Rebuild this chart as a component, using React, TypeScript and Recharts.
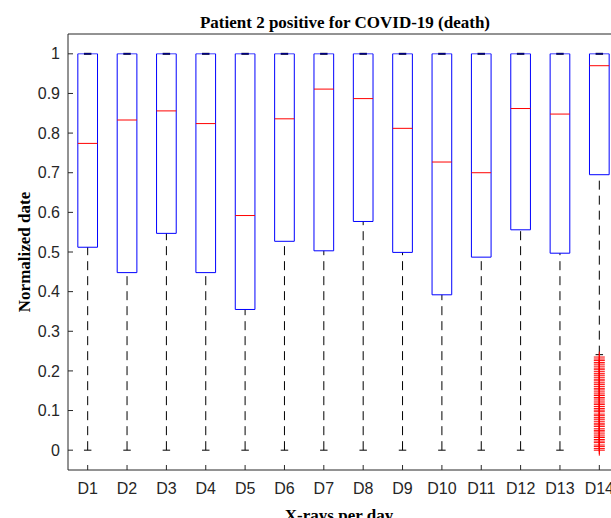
import React from 'react';
import { ComposedChart, XAxis, YAxis, ReferenceLine, Scatter, Customized } from 'recharts';

const days = ['D1', 'D2', 'D3', 'D4', 'D5', 'D6', 'D7', 'D8', 'D9', 'D10', 'D11', 'D12', 'D13', 'D14'];
const lowerWhisker = [0, 0, 0, 0, 0, 0, 0, 0, 0, 0, 0, 0, 0, 0.241];
const q1 = [0.512, 0.448, 0.547, 0.448, 0.355, 0.527, 0.503, 0.577, 0.499, 0.392, 0.487, 0.556, 0.497, 0.695];
const medians = [0.774, 0.833, 0.856, 0.824, 0.592, 0.836, 0.911, 0.887, 0.812, 0.727, 0.7, 0.862, 0.848, 0.97];
const q3 = [1, 1, 1, 1, 1, 1, 1, 1, 1, 1, 1, 1, 1, 1];
const upperWhisker = [1, 1, 1, 1, 1, 1, 1, 1, 1, 1, 1, 1, 1, 1];
// D14 outliers, a dense column from 0 up to the whisker
const d14Outliers = [
  0, 0.004, 0.009, 0.013, 0.019, 0.023, 0.027, 0.032, 0.036, 0.041, 0.046, 0.05,
  0.054, 0.06, 0.064, 0.068, 0.073, 0.078, 0.082, 0.087, 0.091, 0.097, 0.101, 0.105,
  0.11, 0.115, 0.119, 0.124, 0.129, 0.133, 0.138, 0.142, 0.147, 0.152, 0.156, 0.161,
  0.166, 0.17, 0.175, 0.179, 0.184, 0.189, 0.193, 0.198, 0.203, 0.207, 0.212, 0.217,
  0.221, 0.226, 0.23, 0.235,
];
const yTicks = [0, 0.1, 0.2, 0.3, 0.4, 0.5, 0.6, 0.7, 0.8, 0.9, 1];
const xTicks = days.map((_, i) => i + 1);

const AXIS = '#262626';
const BOX_HALF = 0.25;
const CAP_HALF = 0.095;
const tickFont = { fill: AXIS, fontSize: 16, fontFamily: "'Liberation Sans', Arial, sans-serif" };

const outlierData = d14Outliers.map(v => ({ x: 14, y: v }));

const Plus = (props: any) => {
  const { cx, cy } = props;
  return (
    <path d={`M${cx - 5.5},${cy}H${cx + 5.5}M${cx},${cy - 5.5}V${cy + 5.5}`} stroke="#ff0000" strokeWidth={1} fill="none" />
  );
};

const Labels = () => (
  <g fontFamily="'Liberation Serif', 'Times New Roman', serif" fontWeight="bold" fill="#000">
    <text x={345} y={28} textAnchor="middle" fontSize={17}>Patient 2 positive for COVID-19 (death)</text>
    <text x={339} y={521} textAnchor="middle" fontSize={17}>X-rays per day</text>
    <text transform="translate(30,252) rotate(-90)" textAnchor="middle" fontSize={17}>Normalized date</text>
  </g>
);

function boxLines(i: number) {
  const x = i + 1;
  const seg = (x1: number, y1: number, x2: number, y2: number) => [{ x: x1, y: y1 }, { x: x2, y: y2 }];
  return [
    <ReferenceLine key={`wl${i}`} segment={seg(x, lowerWhisker[i], x, q1[i])} stroke="#000" strokeDasharray="9 6" />,
    <ReferenceLine key={`wu${i}`} segment={seg(x, q3[i], x, upperWhisker[i])} stroke="#000" strokeDasharray="9 6" />,
    <ReferenceLine key={`cl${i}`} segment={seg(x - CAP_HALF, lowerWhisker[i], x + CAP_HALF, lowerWhisker[i])} stroke="#000" />,
    <ReferenceLine key={`cu${i}`} segment={seg(x - CAP_HALF, upperWhisker[i], x + CAP_HALF, upperWhisker[i])} stroke="#000" strokeWidth={2} />,
    <ReferenceLine key={`bl${i}`} segment={seg(x - BOX_HALF, q1[i], x - BOX_HALF, q3[i])} stroke="#0000ff" />,
    <ReferenceLine key={`br${i}`} segment={seg(x + BOX_HALF, q1[i], x + BOX_HALF, q3[i])} stroke="#0000ff" />,
    <ReferenceLine key={`bb${i}`} segment={seg(x - BOX_HALF, q1[i], x + BOX_HALF, q1[i])} stroke="#0000ff" />,
    <ReferenceLine key={`bt${i}`} segment={seg(x - BOX_HALF, q3[i], x + BOX_HALF, q3[i])} stroke="#0000ff" strokeOpacity={0.75} />,
    <ReferenceLine key={`md${i}`} segment={seg(x - BOX_HALF, medians[i], x + BOX_HALF, medians[i])} stroke="#ff0000" />,
  ];
}

export default function App() {
  return (
    <div style={{ position: 'fixed', left: 0, top: 0, width: 611, height: 518, overflow: 'hidden', background: '#fff' }}>
      <ComposedChart width={640} height={530} margin={{ top: 33, right: 21, bottom: 30, left: 0 }}>
        <XAxis
          xAxisId={0}
          type="number"
          dataKey="x"
          domain={[0.5, 14.5]}
          ticks={xTicks}
          tickFormatter={(v: number) => days[v - 1]}
          interval={0}
          height={30}
          tickSize={-5}
          tickMargin={18}
          stroke={AXIS}
          tick={tickFont}
          allowDataOverflow
        />
        <XAxis
          xAxisId="top"
          orientation="top"
          type="number"
          domain={[0.5, 14.5]}
          ticks={xTicks}
          height={1}
          tickSize={-5}
          tick={false}
          stroke={AXIS}
          allowDataOverflow
        />
        <YAxis
          type="number"
          dataKey="y"
          domain={[-0.05, 1.05]}
          ticks={yTicks}
          width={68}
          tickSize={-5}
          tickMargin={13}
          stroke={AXIS}
          tick={tickFont}
          allowDataOverflow
        />
        {days.map((_, i) => boxLines(i))}
        <Scatter data={outlierData} dataKey="y" shape={<Plus />} isAnimationActive={false} />
        <Customized component={Labels} />
      </ComposedChart>
    </div>
  );
}
